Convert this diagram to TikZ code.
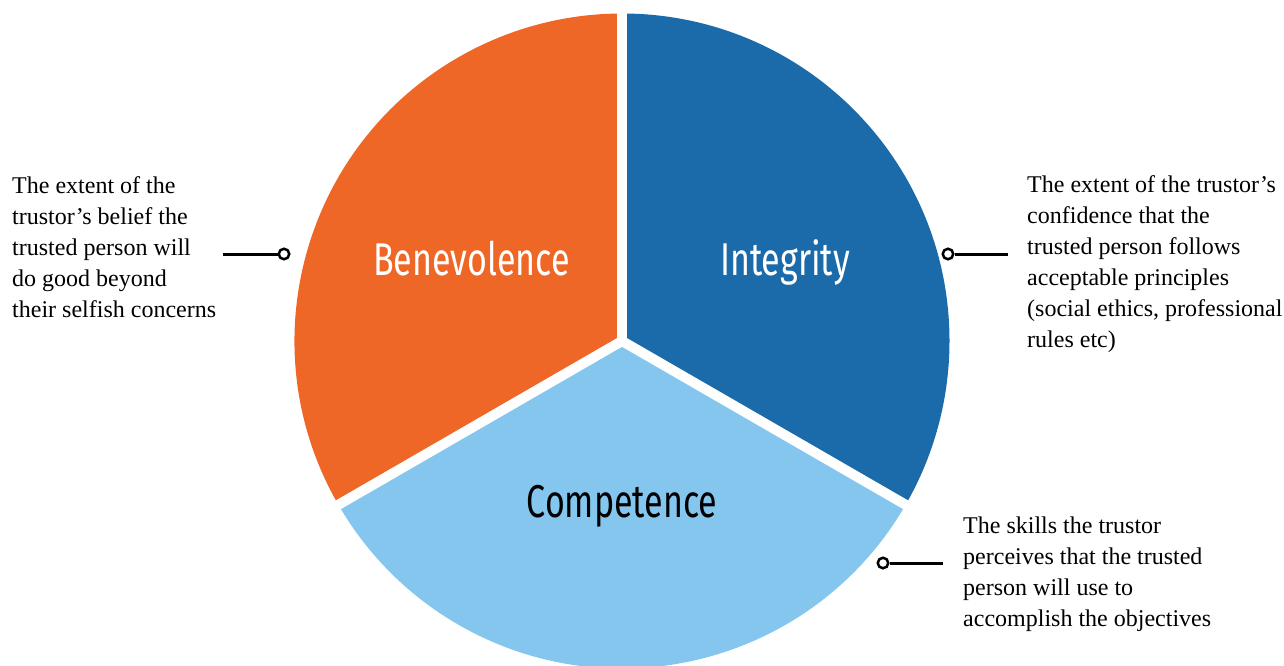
\documentclass[tikz,border=0pt]{standalone}
\usepackage{fontspec}
\setmainfont{Liberation Serif}
\newfontfamily\labelfont{Fira Sans}
\definecolor{cOrange}{RGB}{239,103,38}
\definecolor{cBlue}{RGB}{27,106,170}
\definecolor{cLight}{RGB}{132,198,238}
\begin{document}
\begin{tikzpicture}[x=1pt,y=-1pt,
  desc/.style={align=left, font=\fontsize{24}{31}\selectfont, inner sep=0pt, anchor=base west},
  lbl/.style={inner sep=0pt, anchor=base, font=\fontsize{46}{46}\labelfont},
  dotc/.style={circle, draw=black, fill=white, line width=2.5pt, minimum size=10.5pt, inner sep=0pt},
  conn/.style={line width=3pt}]
\useasboundingbox (0,0) rectangle (1284,666);
\coordinate (c) at (622,341);
\def\R{327.5}
\fill[cLight] (c) -- ++(30:\R) arc[start angle=30,end angle=150,radius=\R] -- cycle;
\fill[cOrange] (c) -- ++(150:\R) arc[start angle=150,end angle=270,radius=\R] -- cycle;
\fill[cBlue] (c) -- ++(270:\R) arc[start angle=270,end angle=390,radius=\R] -- cycle;
\foreach \a in {30,150,270} \draw[white,line width=10pt] (c) -- ++(\a:340);

\node[lbl, text=white] (ben) at (471.5,275) {\scalebox{0.74}[1]{Benevolence}};
\node[lbl, text=white] (integ) at (785,275) {\scalebox{0.74}[1]{Integrity}};
\node[lbl, text=black] (comp) at (622,517) {\scalebox{0.74}[1]{Competence}};

% anchor base = baseline of the last line
\node[desc] (tL) at (12,317) {The extent of the\\trustor’s belief the\\trusted person will\\do good beyond\\their selfish concerns};
\node[desc] (tR) at (1027,347) {The extent of the trustor’s\\confidence that the\\trusted person follows\\acceptable principles\\(social ethics, professional\\rules etc)};
\node[desc] (tB) at (963,626) {The skills the trustor\\perceives that the trusted\\person will use to\\accomplish the objectives};

\coordinate (eL) at (223,254);
\node[dotc] (dL) at (284,254) {};
\draw[conn] (eL) -- (dL);
\coordinate (eR) at (1008,254);
\node[dotc] (dR) at (948,254) {};
\draw[conn] (eR) -- (dR);
\coordinate (eB) at (943,563);
\node[dotc] (dB) at (883,563) {};
\draw[conn] (eB) -- (dB);
\end{tikzpicture}
\end{document}
